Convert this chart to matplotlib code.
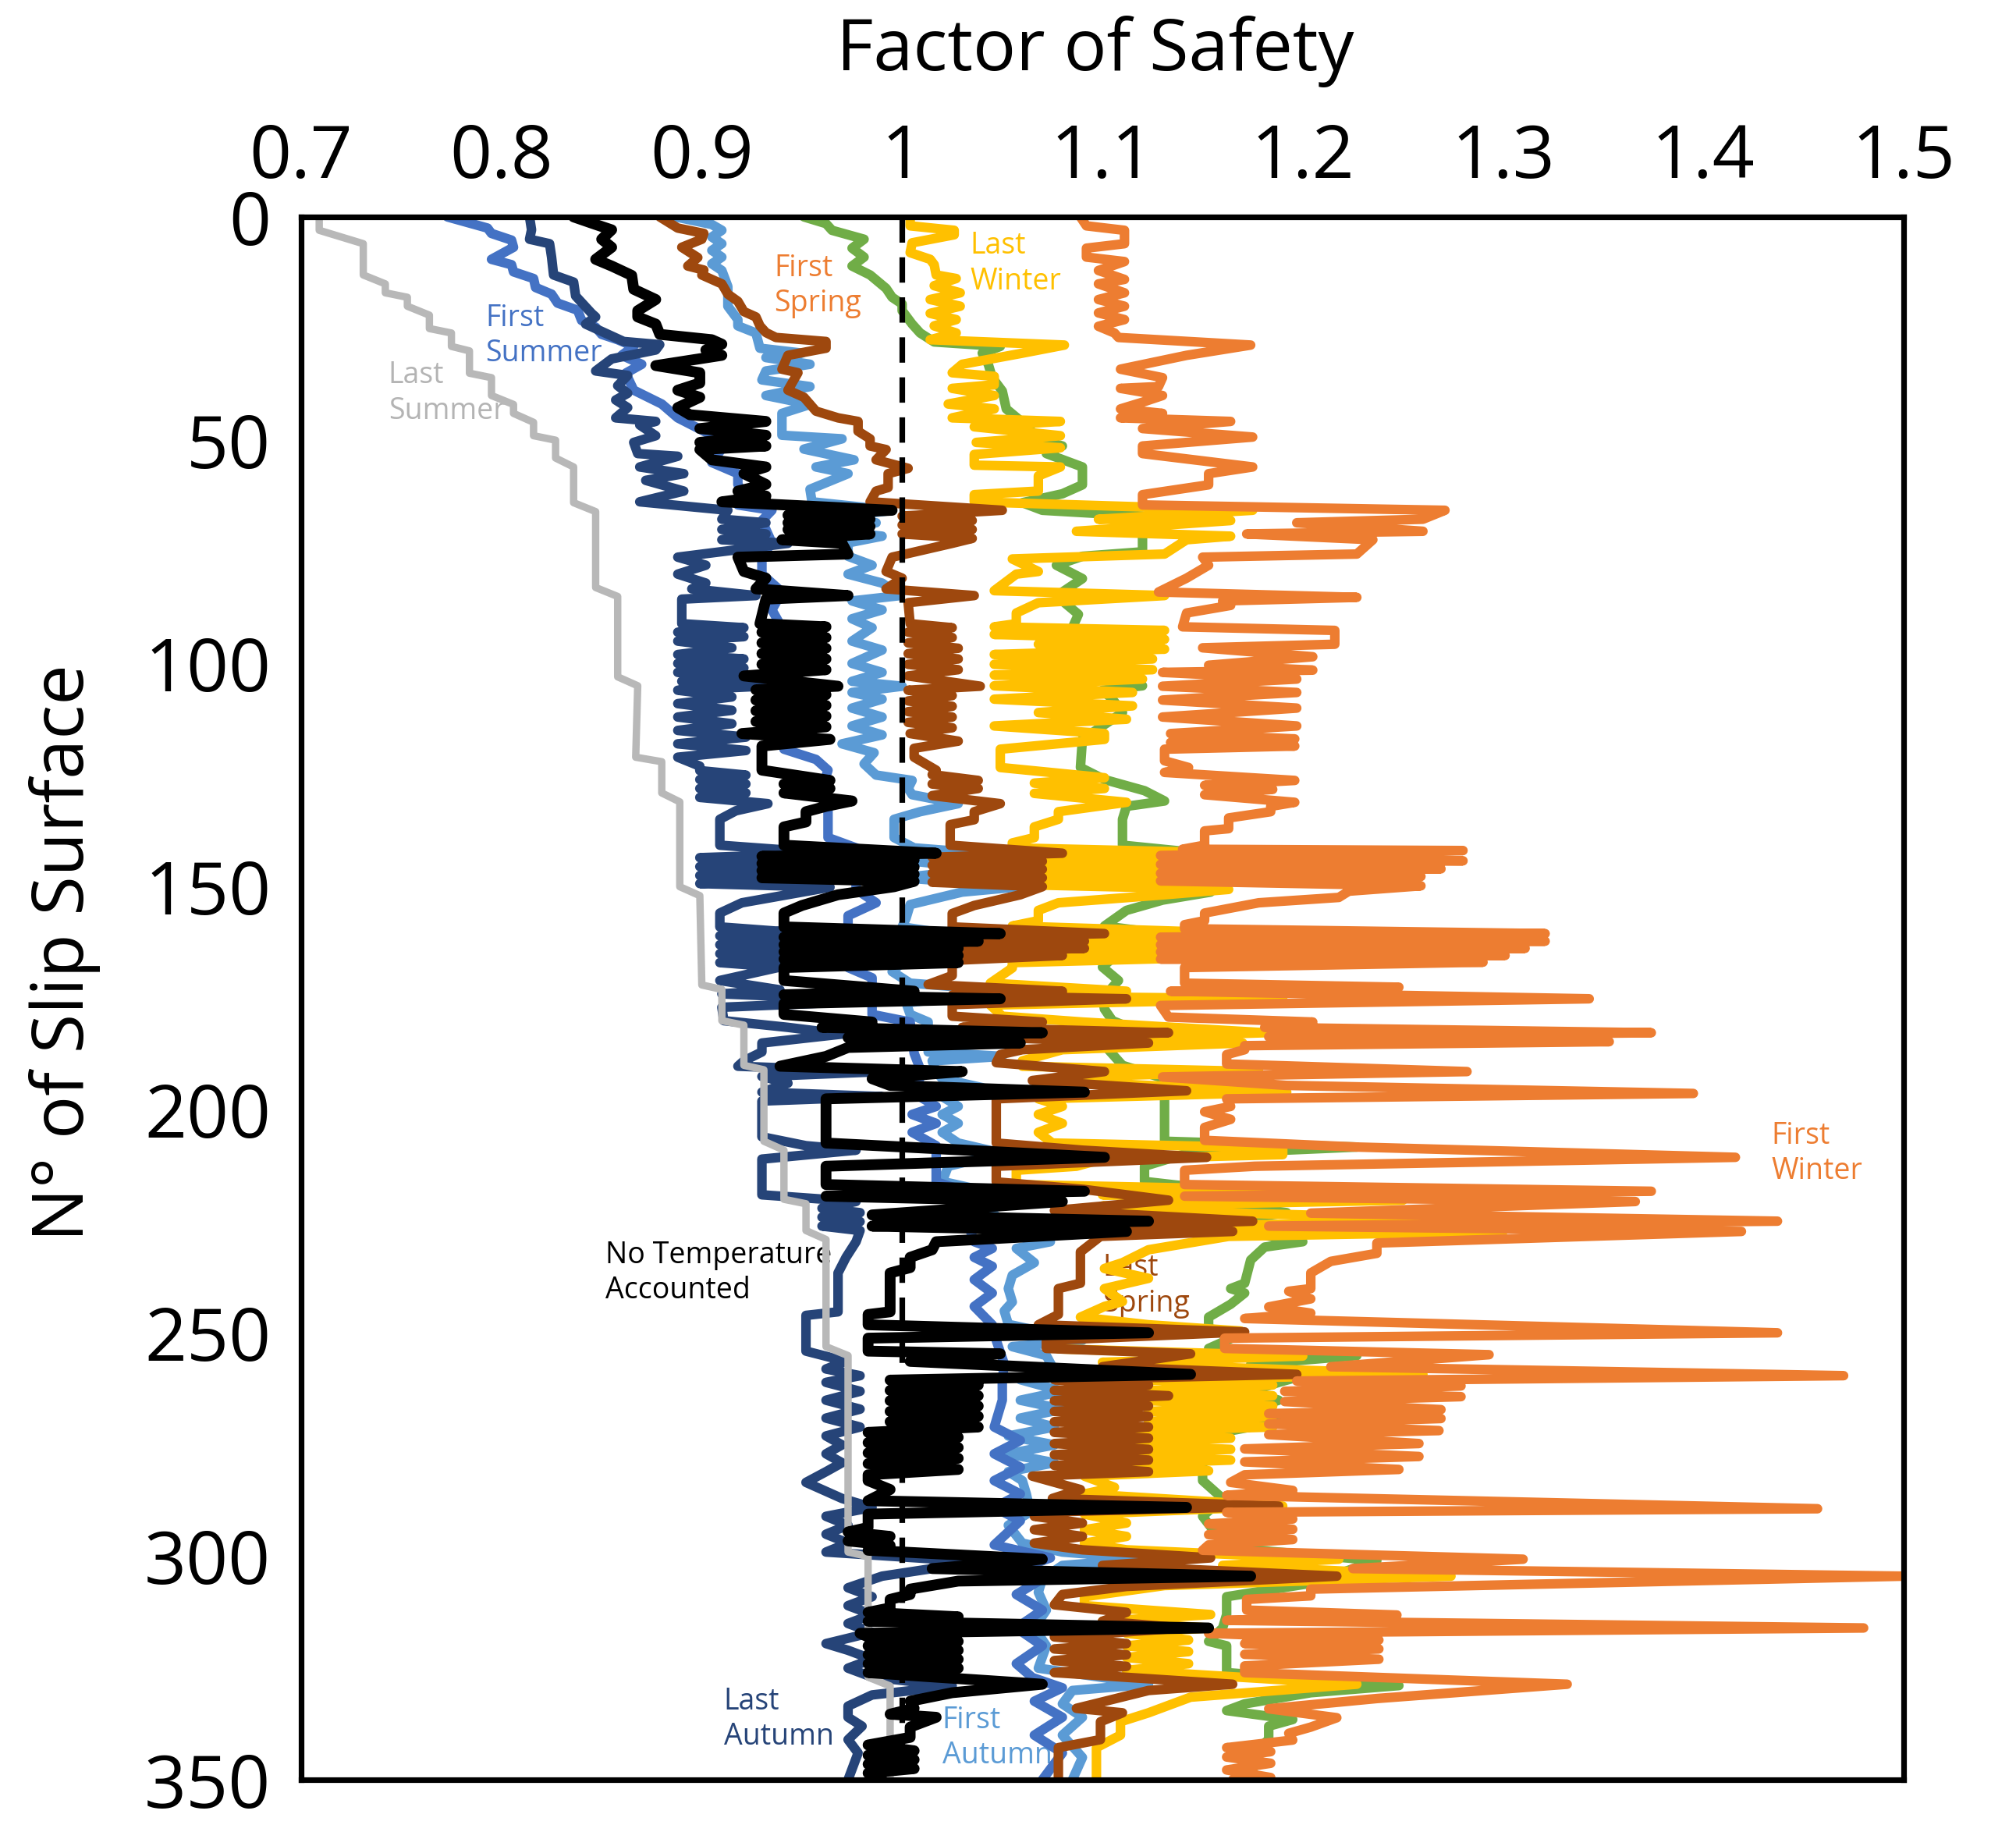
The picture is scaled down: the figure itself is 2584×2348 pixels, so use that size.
import matplotlib
matplotlib.use("Agg")
import matplotlib.pyplot as plt

plt.rcParams['font.family'] = ['Open Sans', 'DejaVu Sans']

# (slip surface number, factor of safety)
last_summer = [(0, 0.709), (3, 0.709), (6, 0.731), (13, 0.731), (15, 0.742), (17, 0.742), (18, 0.753),
               (20, 0.753), (22, 0.764), (25, 0.764), (26, 0.775), (29, 0.775), (30, 0.784), (35, 0.784),
               (36, 0.795), (40, 0.795), (42, 0.806), (44, 0.806), (46, 0.816), (49, 0.816), (50, 0.827),
               (54, 0.827), (56, 0.836), (64, 0.836), (66, 0.847), (83, 0.847), (85, 0.858), (103, 0.858),
               (105, 0.868), (121, 0.867), (122, 0.880), (129, 0.880), (131, 0.889), (150, 0.889),
               (152, 0.899), (172, 0.900), (173, 0.910), (180, 0.910), (181, 0.921), (190, 0.921),
               (191, 0.931), (207, 0.931), (209, 0.941), (220, 0.941), (221, 0.952), (227, 0.952),
               (229, 0.962), (253, 0.962), (255, 0.973), (299, 0.973), (300, 0.983), (327, 0.983),
               (329, 0.994), (350, 0.994)]

first_summer = [(0, 0.773), (2.5, 0.793), (3.7, 0.795), (5.2, 0.805), (6.8, 0.806), (9.5, 0.795), (10.7, 0.805),
                (12.3, 0.806), (13.8, 0.816), (15.8, 0.817), (17.3, 0.825), (19.3, 0.828), (20.9, 0.838),
                (23.2, 0.840), (24.7, 0.847), (26.3, 0.850), (27.5, 0.858), (29, 0.866), (31, 0.860),
                (33, 0.870), (35, 0.862), (38.8, 0.866), (41.9, 0.880), (45, 0.888), (48.9, 0.905),
                (51.3, 0.911), (55, 0.905), (57.5, 0.918), (59.9, 0.918), (62.2, 0.921), (64.5, 0.918),
                (65.7, 0.935), (68, 0.930), (70, 0.932), (73, 0.935), (76, 0.930), (80, 0.930), (84, 0.940),
                (88, 0.935), (92, 0.940), (96, 0.940), (100, 0.945), (105, 0.940), (110, 0.945), (115, 0.940),
                (119.2, 0.941), (121.5, 0.957), (123.9, 0.963), (128, 0.960), (130.8, 0.963), (139, 0.963),
                (141.3, 0.977), (150.6, 0.977), (153.6, 0.987), (156.5, 0.973), (168.1, 0.973),
                (170.4, 0.985), (178.6, 0.985), (180.3, 1.004), (187.3, 1.006), (192, 1.010), (196, 1.005),
                (199.2, 1.017), (201, 1.005), (203, 1.017), (205, 1.005), (208, 1.017), (216.1, 1.017),
                (218, 1.030), (222, 1.030), (229.5, 1.036), (231, 1.045), (233, 1.036), (235, 1.045),
                (238, 1.036), (241, 1.045), (244, 1.036), (248.1, 1.045), (251.6, 1.047), (256.9, 1.051),
                (260.4, 1.050), (265, 1.050), (271, 1.046), (274, 1.059), (277, 1.046), (280, 1.059),
                (283, 1.046), (286, 1.059), (289, 1.046), (292, 1.059), (297.4, 1.046), (300.3, 1.074),
                (303, 1.057), (305, 1.070), (308.5, 1.057), (312, 1.070), (316, 1.057), (320, 1.070),
                (324, 1.057), (327.1, 1.065), (329.4, 1.080), (332.4, 1.066), (336, 1.080), (340, 1.066),
                (344, 1.080), (350, 1.070)]

last_autumn = [(0, 0.814), (2.9, 0.815), (5, 0.814), (6, 0.824), (9, 0.825), (13, 0.826), (14.6, 0.836),
               (17.7, 0.837), (21.6, 0.845), (22.4, 0.847), (24, 0.842), (27.9, 0.861), (28.6, 0.879),
               (29.8, 0.877), (31.8, 0.855), (34.5, 0.847), (35.5, 0.863), (37.8, 0.858), (39.5, 0.863),
               (41, 0.857), (42.7, 0.863), (45, 0.857), (45.8, 0.877), (46.6, 0.869), (49, 0.877),
               (50.5, 0.866), (53, 0.868), (53.6, 0.888), (56, 0.869), (57.5, 0.891), (59, 0.872),
               (61.4, 0.891), (63.8, 0.869), (65.7, 0.913), (67.7, 0.910), (68.5, 0.932), (70, 0.910),
               (71, 0.932), (72.3, 0.910), (73.1, 0.943), (76.2, 0.888), (78, 0.902), (80, 0.888),
               (82, 0.902), (83.3, 0.895), (84.8, 0.927), (85.6, 0.890), (91.1, 0.890), (92, 0.921),
               (93, 0.888), (94, 0.921), (95, 0.888), (96.5, 0.915), (98, 0.888), (99, 0.921), (100, 0.888),
               (101, 0.921), (102, 0.888), (103, 0.921), (104, 0.890), (105.1, 0.930), (106, 0.888),
               (107.5, 0.915), (109, 0.888), (110.5, 0.915), (112, 0.888), (113.5, 0.915), (115, 0.888),
               (116.5, 0.922), (118, 0.888), (119.5, 0.922), (121, 0.888), (123, 0.899), (124, 0.899),
               (125, 0.922), (126, 0.899), (127, 0.922), (128, 0.899), (129, 0.922), (130, 0.899),
               (131.4, 0.933), (133, 0.917), (134.9, 0.909), (140.7, 0.909), (142.5, 0.964), (143.5, 0.899),
               (144.5, 0.933), (145.5, 0.899), (146.5, 0.933), (147.5, 0.899), (148.5, 0.933),
               (149.3, 0.899), (150.1, 0.964), (153.6, 0.920), (155.9, 0.909), (159, 0.909), (160, 0.939),
               (161, 0.909), (162, 0.939), (163, 0.909), (164, 0.939), (165, 0.909), (166, 0.939),
               (167, 0.909), (168, 0.939), (171, 0.909), (173.1, 0.939), (174, 0.910), (175.5, 0.990),
               (177, 0.910), (180, 0.911), (181.5, 0.943), (183, 0.970), (185, 0.930), (187, 0.930),
               (189, 0.921), (190.2, 0.918), (191.4, 0.990), (192.5, 0.930), (194, 0.943), (196, 0.930),
               (197, 0.990), (198, 0.930), (206, 0.930), (208, 0.952), (209, 0.977), (211, 0.930),
               (219, 0.930), (220.5, 0.977), (222, 0.960), (223, 0.979), (224, 0.960), (225, 0.979),
               (226, 0.960), (227, 0.979), (229.5, 0.977), (233, 0.972), (236.5, 0.968), (245.2, 0.968),
               (246, 0.952), (254, 0.952), (256.3, 0.972), (258, 0.962), (259.5, 0.979), (261, 0.962),
               (263, 0.979), (265, 0.962), (267, 0.979), (269, 0.962), (271, 0.979), (273, 0.962),
               (275, 0.970), (277, 0.962), (279, 0.970), (281, 0.962), (283.4, 0.952), (285, 0.960),
               (287, 0.970), (289, 0.985), (291, 0.962), (293, 0.973), (295, 0.962), (297, 0.973),
               (299, 0.962), (300.9, 1.028), (302.7, 1.015), (304.4, 0.990), (307, 0.973), (309, 0.985),
               (311, 0.973), (313, 0.985), (315, 0.973), (317, 0.985), (319.5, 0.962), (321, 0.973),
               (323, 0.985), (325, 0.973), (327, 0.985), (329, 1.025), (331, 0.985), (333.5, 0.973),
               (336, 0.973), (338, 0.980), (341, 0.973), (344, 0.978), (350, 0.973)]

first_autumn = [(0, 0.887), (1.7, 0.905), (3, 0.910), (4.5, 0.905), (6, 0.910), (7.5, 0.905), (9, 0.910),
                (10.5, 0.905), (12, 0.910), (15.6, 0.913), (20, 0.913), (23, 0.918), (24.4, 0.918),
                (26, 0.927), (29.4, 0.929), (30.5, 0.950), (31.5, 0.932), (33, 0.954), (34.5, 0.932),
                (36.5, 0.930), (38, 0.954), (40, 0.932), (42, 0.954), (44, 0.940), (48.9, 0.940),
                (49.7, 0.970), (52, 0.951), (54.4, 0.976), (56, 0.957), (57.5, 0.973), (61, 0.954),
                (63.8, 0.955), (65.7, 0.995), (67.7, 0.960), (68.5, 0.987), (70, 0.960), (71.5, 0.990),
                (73, 0.973), (76, 0.973), (78, 0.985), (80, 0.973), (82, 0.990), (84.8, 0.999), (86, 0.975),
                (88, 0.990), (90, 0.975), (92, 0.985), (95, 0.975), (97, 0.990), (100, 0.975), (102, 0.990),
                (104, 0.975), (105.1, 1.000), (106.5, 0.975), (108, 0.990), (110, 0.975), (112, 0.990),
                (114, 0.975), (116, 0.990), (118, 0.970), (120, 0.986), (122.5, 0.981), (125, 0.987),
                (126.2, 1.005), (128, 1.003), (129.4, 1.005), (131.4, 1.028), (133.2, 1.009),
                (134.9, 0.996), (139, 0.996), (141.3, 1.006), (142.5, 1.040), (144, 1.000), (146, 1.040),
                (148, 1.000), (150, 1.059), (151.2, 1.030), (154, 1.004), (157, 1.002), (159, 1.000),
                (161, 1.030), (163, 1.000), (165, 1.030), (167, 1.000), (169, 0.995), (171.6, 1.004),
                (173.4, 1.055), (176, 1.002), (178.6, 1.004), (180.3, 1.013), (187, 1.013), (188, 1.050),
                (189, 1.015), (191.4, 1.017), (193, 1.020), (195, 1.040), (197, 1.020), (199.2, 1.028),
                (201, 1.020), (203, 1.028), (205, 1.020), (207.4, 1.028), (209.7, 1.050), (212.6, 1.023),
                (216, 1.020), (218, 1.040), (220, 1.035), (223, 1.045), (227, 1.055), (229.5, 1.074),
                (231, 1.057), (234.2, 1.066), (237, 1.055), (240, 1.053), (243, 1.055), (245, 1.051),
                (248, 1.053), (251.6, 1.090), (253, 1.055), (255, 1.072), (257.5, 1.075), (260.4, 1.059),
                (263, 1.080), (265, 1.059), (267, 1.080), (269, 1.059), (271, 1.076), (273, 1.053),
                (275, 1.076), (277, 1.053), (279, 1.076), (281, 1.053), (283, 1.060), (286, 1.062),
                (290, 1.064), (293, 1.053), (297, 1.060), (299, 1.080), (300.5, 1.123), (302, 1.080),
                (305, 1.070), (308, 1.068), (312, 1.072), (316, 1.066), (320, 1.072), (325, 1.068),
                (328.6, 1.123), (330, 1.085), (333, 1.080), (336, 1.090), (340, 1.080), (345, 1.090),
                (350, 1.085)]

no_temperature = [(0, 0.836), (1.7, 0.847), (2.9, 0.855), (5, 0.850), (6.8, 0.855), (9.5, 0.847), (11, 0.855),
                  (13.1, 0.865), (16.2, 0.866), (18.5, 0.877), (21, 0.868), (22.4, 0.868), (24, 0.877),
                  (26.3, 0.879), (27.5, 0.905), (28.5, 0.910), (29.8, 0.902), (31, 0.910), (33.3, 0.877),
                  (34.9, 0.899), (37.2, 0.899), (38.8, 0.888), (40.4, 0.899), (42.7, 0.888), (44.3, 0.894),
                  (45.8, 0.932), (47.4, 0.899), (48.9, 0.932), (50.5, 0.899), (51.3, 0.932), (52.1, 0.899),
                  (54.4, 0.905), (56, 0.932), (57.5, 0.921), (59.9, 0.932), (61.4, 0.918), (62.5, 0.932),
                  (63.8, 0.910), (65.7, 0.995), (66.8, 0.943), (67.7, 0.984), (68.5, 0.943), (69.3, 0.984),
                  (70, 0.943), (71, 0.984), (72.3, 0.940), (73.1, 0.970), (75.5, 0.973), (76.2, 0.918),
                  (79.4, 0.921), (80.9, 0.932), (83.3, 0.927), (84.8, 0.973), (85.6, 0.932), (91.1, 0.929),
                  (91.8, 0.962), (93, 0.930), (94.2, 0.962), (95.4, 0.930), (96.6, 0.962), (97.8, 0.930),
                  (99, 0.962), (100.2, 0.930), (101.4, 0.962), (102.8, 0.921), (105.1, 0.968), (105.9, 0.927),
                  (107, 0.962), (108.2, 0.927), (109.4, 0.962), (110.6, 0.927), (111.8, 0.962), (113, 0.927),
                  (114.2, 0.962), (115.7, 0.920), (117, 0.964), (118.5, 0.930), (123.9, 0.930),
                  (126.2, 0.964), (127, 0.941), (128, 0.964), (129, 0.941), (130.8, 0.975), (132, 0.962),
                  (133.2, 0.952), (135.5, 0.952), (136.6, 0.941), (140.7, 0.941), (142.5, 1.017),
                  (143.2, 0.930), (144, 1.006), (144.8, 0.930), (145.6, 1.006), (146.4, 0.930),
                  (147.2, 1.006), (148, 0.930), (148.8, 1.006), (150, 0.996), (151.8, 0.968), (154.2, 0.950),
                  (155.9, 0.941), (159, 0.941), (160.5, 1.049), (161.3, 0.941), (162.2, 1.038), (163, 0.941),
                  (163.8, 1.028), (164.6, 0.941), (165.4, 1.028), (166.2, 0.941), (167, 1.028),
                  (168.1, 0.941), (171, 0.941), (173.4, 1.006), (174.2, 0.941), (175.1, 1.049),
                  (176.2, 0.941), (178.6, 0.941), (180.3, 0.985), (181.5, 0.960), (182.7, 1.070),
                  (183.8, 0.973), (185, 1.059), (186, 0.973), (188, 0.962), (190.2, 0.939), (191.4, 1.030),
                  (193, 0.985), (194.5, 0.994), (196, 1.091), (197.5, 0.962), (207.4, 0.962), (210.6, 1.101),
                  (212.6, 0.962), (216.7, 0.962), (218.2, 1.091), (219.3, 0.962), (220.5, 1.080),
                  (223.5, 0.985), (224.9, 1.123), (226, 0.985), (227.2, 1.112), (229.5, 1.017),
                  (231.3, 1.015), (233, 1.004), (235.3, 1.004), (236.5, 0.994), (245.2, 0.994),
                  (245.8, 0.983), (248.1, 0.983), (249.9, 1.123), (251.1, 0.983), (254, 0.983),
                  (254.6, 1.049), (256.3, 1.004), (259.2, 1.144), (260.5, 0.994), (261.6, 1.038),
                  (262.8, 0.994), (264, 1.038), (265.1, 0.994), (266.3, 1.038), (267.5, 0.994),
                  (268.6, 1.038), (269.8, 0.994), (271, 1.038), (272.2, 0.983), (273.3, 1.028),
                  (274.5, 0.983), (275.6, 1.028), (276.8, 0.983), (278, 1.028), (279.2, 0.983),
                  (280.5, 1.028), (281.7, 0.983), (283, 0.983), (285, 0.994), (287.5, 0.983), (289, 1.142),
                  (290.5, 0.983), (293.5, 0.983), (294.5, 0.973), (295.5, 0.994), (296.5, 0.973),
                  (297.5, 0.994), (298.6, 0.983), (300.6, 1.070), (302.7, 1.015), (304.4, 1.174),
                  (305.5, 1.028), (307.3, 1.004), (308.5, 1.004), (309.6, 0.994), (311.5, 0.994),
                  (312.5, 0.983), (313.5, 1.028), (314.5, 0.983), (316, 1.153), (317.2, 0.979), (318, 0.983),
                  (319, 1.028), (320, 0.983), (321, 1.028), (322, 0.983), (323, 1.028), (324, 0.983),
                  (325, 1.028), (326, 0.983), (328.6, 1.070), (330.5, 1.025), (332.4, 1.004), (334, 1.006),
                  (335.3, 0.994), (336, 1.017), (338.2, 1.004), (340.5, 1.004), (342.2, 0.983),
                  (343.5, 1.006), (344.5, 0.983), (345.5, 1.006), (346.5, 0.983), (347.5, 1.006),
                  (348.5, 0.983), (350, 0.990)]

last_spring = [(0, 0.879), (2.5, 0.888), (3.7, 0.901), (5, 0.900), (6.8, 0.890), (9.1, 0.898), (11, 0.893),
               (11.9, 0.901), (13, 0.900), (15, 0.910), (17.3, 0.913), (18.9, 0.918), (21.2, 0.921),
               (22.4, 0.927), (24.4, 0.929), (25.9, 0.932), (27, 0.937), (27.9, 0.962), (29.4, 0.962),
               (31, 0.943), (34.1, 0.940), (34.9, 0.948), (38.8, 0.943), (40.4, 0.951), (43.5, 0.957),
               (45, 0.968), (45.8, 0.978), (48, 0.978), (49.7, 0.984), (51.3, 0.984), (52.1, 0.992),
               (54.4, 0.987), (56.3, 1.003), (57.5, 0.993), (60.6, 0.993), (61.4, 0.987), (63.8, 0.984),
               (65.7, 1.050), (67, 1.000), (68, 1.035), (69, 1.000), (70, 1.035), (71, 1.000), (72, 1.035),
               (73.1, 1.025), (76.2, 0.995), (79.4, 0.992), (80.9, 1.000), (83.3, 0.992), (84.8, 1.036),
               (86.4, 1.003), (91.1, 1.004), (92, 1.025), (93, 1.003), (94.2, 1.025), (95.4, 1.003),
               (96.6, 1.028), (97.8, 1.003), (99, 1.028), (100.2, 1.003), (101.4, 1.028), (102.8, 1.003),
               (105.1, 1.039), (106, 1.003), (107.2, 1.025), (108.4, 1.003), (109.6, 1.025),
               (110.8, 1.003), (112, 1.025), (113.2, 1.003), (114.4, 1.025), (115.7, 1.004),
               (117.4, 1.028), (119, 1.006), (121, 1.006), (123.9, 1.017), (124.9, 1.015), (126.2, 1.038),
               (127, 1.015), (128, 1.038), (129.6, 1.015), (131.4, 1.049), (133.2, 1.036), (135, 1.036),
               (136.1, 1.024), (140.7, 1.024), (142.5, 1.080), (143.4, 1.015), (144.3, 1.070),
               (145.2, 1.015), (146.1, 1.070), (147, 1.015), (148, 1.070), (149, 1.015), (150, 1.070),
               (151.8, 1.059), (154.2, 1.036), (156, 1.025), (159, 1.025), (160.5, 1.101), (161.3, 1.023),
               (162.2, 1.091), (163, 1.023), (163.8, 1.091), (164.6, 1.023), (165.4, 1.080),
               (166.5, 1.025), (169.9, 1.025), (171.9, 1.013), (173.4, 1.080), (174.3, 1.025),
               (175.1, 1.112), (176.4, 1.025), (179, 1.025), (180.3, 1.070), (181.5, 1.030),
               (182.7, 1.133), (183.8, 1.050), (185, 1.123), (186.5, 1.060), (187.6, 1.049),
               (189.4, 1.047), (191.4, 1.101), (193.4, 1.065), (195.7, 1.142), (197.5, 1.047),
               (207.4, 1.047), (209, 1.090), (210.6, 1.152), (212.6, 1.047), (216.1, 1.047),
               (217.8, 1.091), (220.2, 1.133), (222.5, 1.076), (224.9, 1.175), (226, 1.100),
               (227.2, 1.165), (228.3, 1.099), (231.8, 1.089), (238.8, 1.089), (240, 1.078),
               (245.8, 1.078), (248.1, 1.068), (249.7, 1.171), (251.6, 1.072), (253.4, 1.072),
               (254.6, 1.144), (257.5, 1.100), (259.2, 1.197), (260.4, 1.076), (261.6, 1.123),
               (262.8, 1.076), (264, 1.133), (265.1, 1.076), (266.3, 1.123), (267.5, 1.076),
               (268.6, 1.123), (269.8, 1.076), (271, 1.123), (272.2, 1.076), (273.5, 1.123),
               (274.7, 1.076), (276, 1.123), (277.2, 1.076), (278.4, 1.123), (279.6, 1.076), (281, 1.123),
               (282, 1.065), (285, 1.089), (287, 1.075), (288.7, 1.188), (290, 1.075), (291, 1.066),
               (292.5, 1.090), (294, 1.066), (295.5, 1.090), (297, 1.066), (298.5, 1.090), (300.3, 1.154),
               (302, 1.100), (304.4, 1.217), (306.7, 1.112), (308.5, 1.080), (310.8, 1.076),
               (312.5, 1.112), (314.5, 1.100), (316, 1.140), (318, 1.076), (319.5, 1.112), (320.7, 1.076),
               (322, 1.112), (323.3, 1.076), (324.6, 1.112), (326, 1.076), (328.6, 1.165), (330, 1.123),
               (334, 1.087), (335, 1.110), (337, 1.099), (341, 1.099), (342.8, 1.078), (350, 1.078)]

first_spring = [(0, 0.951), (1.5, 0.962), (3, 0.965), (5, 0.981), (7, 0.975), (9, 0.981), (11, 0.975),
                (13, 0.984), (16, 0.992), (18, 0.995), (19.5, 1.000), (21, 1.000), (24, 1.005), (26, 1.009),
                (28, 1.016), (29, 1.049), (30.5, 1.040), (33, 1.043), (36, 1.045), (39, 1.050), (43, 1.052),
                (46, 1.060), (50, 1.069), (51.3, 1.080), (53, 1.072), (56, 1.090), (60, 1.090), (62, 1.080),
                (64, 1.060), (65.7, 1.070), (67, 1.120), (72, 1.120), (75, 1.120), (76, 1.090), (78, 1.077),
                (81, 1.090), (84, 1.080), (86, 1.080), (89, 1.088), (92, 1.085), (96, 1.090), (100, 1.090),
                (103, 1.095), (105, 1.120), (106, 1.100), (108, 1.105), (111, 1.110), (114, 1.100),
                (117, 1.090), (123.3, 1.089), (126, 1.101), (128.5, 1.121), (130.8, 1.131), (132, 1.112),
                (134.9, 1.110), (140.7, 1.110), (142.5, 1.150), (145, 1.130), (148, 1.160), (151.2, 1.154),
                (153, 1.130), (155.3, 1.112), (158.8, 1.101), (160.5, 1.130), (164, 1.110), (168, 1.100),
                (171, 1.108), (175, 1.100), (177.4, 1.101), (180, 1.105), (182.7, 1.120), (185, 1.100),
                (190, 1.110), (193, 1.131), (207, 1.131), (208.3, 1.227), (210, 1.140), (212.6, 1.121),
                (216, 1.121), (218, 1.160), (221, 1.160), (223, 1.192), (225, 1.160), (228, 1.180),
                (229.5, 1.200), (230.7, 1.181), (233.6, 1.174), (238.8, 1.171), (240, 1.164), (241, 1.171),
                (243.5, 1.164), (246.4, 1.153), (249, 1.153), (250, 1.170), (253.4, 1.153), (255, 1.227),
                (257, 1.174), (259.5, 1.200), (261, 1.188), (263, 1.174), (265, 1.188), (267, 1.174),
                (269, 1.188), (271, 1.174), (273, 1.150), (283, 1.150), (287, 1.160), (291, 1.150),
                (298, 1.162), (300.9, 1.237), (306, 1.204), (309, 1.162), (313, 1.162), (316, 1.160),
                (319, 1.153), (320, 1.162), (326, 1.162), (328.9, 1.248), (330.5, 1.204), (333, 1.171),
                (334.5, 1.162), (336.5, 1.195), (338, 1.183), (341, 1.183), (344, 1.175), (350, 1.175)]

last_winter = [(0, 1.004), (2, 1.004), (3, 1.026), (4, 1.026), (5.8, 1.005), (8, 1.004), (9.5, 1.014),
               (10.7, 1.016), (13, 1.017), (13.8, 1.027), (15.4, 1.016), (17, 1.029), (18.5, 1.014),
               (20, 1.029), (21.6, 1.014), (23, 1.027), (24.4, 1.016), (26, 1.027), (27.5, 1.014),
               (28.7, 1.081), (30.6, 1.059), (33, 1.030), (34.9, 1.025), (35.7, 1.046), (37.6, 1.046),
               (38.4, 1.025), (40, 1.046), (41.9, 1.023), (43, 1.046), (45, 1.025), (45.8, 1.079),
               (47, 1.036), (49, 1.079), (50.5, 1.037), (51.7, 1.079), (53.2, 1.036), (55.6, 1.036),
               (56, 1.079), (58, 1.068), (61.4, 1.068), (62.2, 1.036), (63.8, 1.036), (65.7, 1.175),
               (67.7, 1.098), (68, 1.164), (70.4, 1.087), (71.5, 1.164), (72.3, 1.142), (75.5, 1.131),
               (76.6, 1.055), (79.4, 1.068), (80, 1.057), (83.7, 1.046), (84.8, 1.131), (86.4, 1.068),
               (88.7, 1.057), (91.1, 1.057), (91.8, 1.046), (92.6, 1.131), (93.5, 1.046), (94.6, 1.131),
               (95.7, 1.068), (96.8, 1.131), (98, 1.046), (99, 1.125), (100.2, 1.046), (101.4, 1.125),
               (102.6, 1.046), (103.5, 1.120), (105, 1.046), (106.5, 1.115), (108, 1.046), (109.5, 1.115),
               (111, 1.068), (112.5, 1.112), (114, 1.046), (115.7, 1.101), (117, 1.101), (119.2, 1.049),
               (123.3, 1.049), (125.6, 1.101), (126.8, 1.066), (128, 1.101), (129.1, 1.066),
               (131.1, 1.112), (133.2, 1.078), (134.9, 1.078), (136.6, 1.066), (139, 1.066),
               (140.2, 1.055), (141.3, 1.055), (142.5, 1.170), (143.5, 1.055), (144.5, 1.170),
               (145.5, 1.055), (146.5, 1.170), (147.5, 1.055), (148.5, 1.165), (149.5, 1.055),
               (150.6, 1.163), (151.8, 1.131), (153.6, 1.078), (155.3, 1.068), (157.6, 1.068),
               (158.8, 1.055), (160, 1.140), (161, 1.055), (162, 1.140), (163, 1.055), (164, 1.140),
               (165, 1.055), (166, 1.140), (167, 1.055), (168.2, 1.055), (171.6, 1.044), (173.4, 1.112),
               (174.5, 1.044), (175.1, 1.190), (176.5, 1.044), (179, 1.050), (180.3, 1.090),
               (182.7, 1.181), (184, 1.090), (185, 1.170), (186.5, 1.080), (189, 1.060), (190.2, 1.060),
               (191.4, 1.178), (192.6, 1.080), (194, 1.100), (196, 1.192), (197.5, 1.068), (199.2, 1.080),
               (201, 1.068), (203, 1.080), (205, 1.068), (207.4, 1.075), (208.5, 1.190), (210, 1.190),
               (211, 1.100), (212.6, 1.087), (213.5, 1.057), (216.7, 1.057), (218, 1.200), (219, 1.100),
               (220.2, 1.250), (221.5, 1.100), (222.5, 1.120), (224.9, 1.311), (226, 1.120),
               (227.2, 1.300), (228.3, 1.163), (231.3, 1.123), (234.2, 1.110), (235.5, 1.101),
               (237.7, 1.123), (240, 1.101), (242.9, 1.110), (244, 1.101), (246.4, 1.089), (248.1, 1.123),
               (249.5, 1.169), (251, 1.078), (253.5, 1.078), (255.1, 1.200), (256.5, 1.100),
               (257.5, 1.150), (259.2, 1.260), (260.4, 1.123), (261.6, 1.185), (262.8, 1.123),
               (264, 1.185), (265.1, 1.123), (266.3, 1.185), (267.5, 1.123), (268.6, 1.185),
               (269.8, 1.123), (271, 1.185), (272.2, 1.091), (273.5, 1.164), (274.7, 1.091), (276, 1.164),
               (277.2, 1.091), (278.4, 1.164), (279.6, 1.091), (280.8, 1.153), (282, 1.091),
               (284.5, 1.106), (286, 1.091), (288.7, 1.190), (290.5, 1.091), (292.5, 1.112), (294, 1.091),
               (295.5, 1.112), (297, 1.091), (298.5, 1.112), (300.6, 1.218), (302, 1.160), (304.4, 1.274),
               (306.5, 1.131), (309, 1.091), (311, 1.091), (313, 1.154), (314.5, 1.100), (316, 1.153),
               (317.2, 1.112), (318.7, 1.143), (320, 1.112), (321.3, 1.143), (322.6, 1.112), (324, 1.143),
               (325.5, 1.112), (328.6, 1.227), (331.5, 1.144), (335, 1.123), (337, 1.109), (340, 1.109),
               (342.8, 1.097), (350, 1.097)]

first_winter = [(0, 1.089), (2, 1.092), (3, 1.111), (6, 1.111), (7, 1.092), (9, 1.092), (10, 1.111),
                (12, 1.098), (14, 1.111), (15, 1.098), (17, 1.111), (18.5, 1.098), (20, 1.111),
                (21.5, 1.098), (23, 1.111), (24.5, 1.098), (26, 1.106), (27, 1.108), (28.7, 1.174),
                (31, 1.142), (34.1, 1.109), (36, 1.130), (38, 1.128), (38.4, 1.109), (40, 1.130),
                (41.5, 1.120), (43, 1.109), (44, 1.130), (45, 1.109), (45.8, 1.164), (47.4, 1.120),
                (49.3, 1.175), (51.3, 1.120), (53, 1.120), (56, 1.175), (57.5, 1.153), (60, 1.153),
                (62.2, 1.120), (64.5, 1.120), (65.7, 1.271), (67.7, 1.260), (68.5, 1.197), (70.4, 1.260),
                (71, 1.172), (72.3, 1.235), (75.5, 1.227), (76.2, 1.150), (78, 1.153), (80.9, 1.142),
                (84, 1.128), (85.2, 1.227), (86, 1.160), (87, 1.164), (88.7, 1.142), (91.8, 1.140),
                (92.6, 1.216), (95.7, 1.216), (96.5, 1.150), (98.5, 1.205), (100.4, 1.153), (101.5, 1.205),
                (102, 1.130), (103.5, 1.197), (105.1, 1.130), (106.5, 1.197), (108.2, 1.130),
                (110, 1.197), (112, 1.130), (114, 1.197), (115.7, 1.134), (116.9, 1.196), (117.7, 1.134),
                (118.5, 1.196), (119.2, 1.131), (121.8, 1.131), (123.3, 1.143), (124.4, 1.131),
                (126.2, 1.196), (127.3, 1.151), (128.2, 1.185), (129.4, 1.151), (131.1, 1.196),
                (132, 1.184), (133.2, 1.184), (134.6, 1.163), (137, 1.163), (137.5, 1.151), (140.7, 1.151),
                (141.6, 1.140), (141.9, 1.280), (143, 1.129), (144.2, 1.280), (145, 1.129), (146, 1.269),
                (147, 1.129), (147.7, 1.259), (148.7, 1.129), (149.8, 1.259), (151, 1.223), (152.4, 1.218),
                (153.6, 1.178), (155.9, 1.151), (157.6, 1.151), (158.5, 1.141), (159.4, 1.141),
                (160.5, 1.321), (161.3, 1.129), (162.2, 1.321), (163, 1.129), (163.8, 1.311),
                (164.6, 1.129), (165.4, 1.301), (166.2, 1.129), (166.9, 1.290), (168.1, 1.141),
                (171.6, 1.141), (172.5, 1.248), (173.4, 1.134), (175.1, 1.343), (176.6, 1.129),
                (179.2, 1.133), (180.3, 1.205), (181.5, 1.181), (182.7, 1.374), (183.6, 1.183),
                (184.7, 1.353), (185.6, 1.171), (186.5, 1.171), (187.6, 1.162), (189.7, 1.162),
                (191.4, 1.282), (192.6, 1.130), (194.5, 1.192), (196.3, 1.395), (197.5, 1.162),
                (199.2, 1.164), (200.4, 1.151), (202.1, 1.164), (203.9, 1.151), (206.8, 1.151),
                (208.3, 1.227), (210.6, 1.416), (212.6, 1.176), (213.5, 1.141), (216.7, 1.141),
                (218.2, 1.374), (219.3, 1.141), (220.5, 1.366), (223.1, 1.204), (224.9, 1.437),
                (226, 1.183), (227.2, 1.419), (229.8, 1.237), (232.1, 1.237), (233.9, 1.214),
                (236.5, 1.204), (240, 1.204), (240.6, 1.193), (242.3, 1.204), (244.1, 1.183),
                (245.5, 1.204), (246.7, 1.171), (249.9, 1.437), (251.1, 1.161), (253.4, 1.161),
                (254.8, 1.293), (257.5, 1.214), (259.5, 1.470), (260.7, 1.197), (261.8, 1.279),
                (263, 1.191), (264.2, 1.279), (265.3, 1.191), (267.1, 1.269), (268, 1.183), (269.1, 1.269),
                (270.3, 1.183), (271.8, 1.268), (272.7, 1.183), (274.7, 1.258), (275.9, 1.171),
                (277.6, 1.258), (278.8, 1.171), (280.5, 1.248), (281.7, 1.171), (283.4, 1.164),
                (285.2, 1.195), (286.3, 1.162), (289.3, 1.457), (290.1, 1.162), (291.6, 1.195),
                (292.7, 1.153), (293.9, 1.195), (295.1, 1.153), (296.2, 1.195), (297.4, 1.153),
                (298.6, 1.150), (300.6, 1.310), (302.7, 1.225), (304.4, 1.500), (307.3, 1.204),
                (308.8, 1.204), (309.6, 1.172), (312, 1.172), (313.1, 1.247), (314.3, 1.162), (316, 1.480),
                (317.2, 1.153), (318.7, 1.238), (319.5, 1.171), (320.7, 1.238), (321.9, 1.171),
                (323, 1.238), (324.5, 1.171), (326, 1.171), (328.6, 1.332), (331.8, 1.237), (334.1, 1.183),
                (336.1, 1.217), (338.2, 1.204), (339.6, 1.193), (341.1, 1.195), (342.8, 1.162),
                (343.7, 1.184), (344.9, 1.162), (346.3, 1.184), (347.8, 1.162), (349.5, 1.184),
                (350, 1.165)]

x_ticks = [0.7, 0.8, 0.9, 1.0, 1.1, 1.2, 1.3, 1.4, 1.5]
x_tick_labels = ['0.7', '0.8', '0.9', '1', '1.1', '1.2', '1.3', '1.4', '1.5']
y_ticks = [0, 50, 100, 150, 200, 250, 300, 350]

# (data, colour, linewidth, zorder)
series = [
    (first_spring, '#70AD47', 4.4, 2),
    (first_autumn, '#5B9BD5', 4.4, 3),
    (first_summer, '#4472C4', 4.4, 4),
    (last_autumn, '#264478', 4.4, 5),
    (last_summer, '#B8B8B8', 3.4, 6),
    (last_winter, '#FFC000', 4.4, 7),
    (last_spring, '#9E480E', 4.4, 8),
    (first_winter, '#ED7D31', 4.4, 9),
    (no_temperature, '#000000', 5.0, 11),
]

# label text, left x (factor of safety), centre y (slip surface), colour
labels = [
    ('First\nSummer', 0.792, 26.6, '#4472C4'),
    ('Last\nSummer', 0.7435, 39.5, '#B4B4B4'),
    ('First\nSpring', 0.936, 15.4, '#ED7D31'),
    ('Last\nWinter', 1.034, 10.5, '#FFC000'),
    ('First\nWinter', 1.434, 209.7, '#ED7D31'),
    ('No Temperature\nAccounted', 0.852, 236.5, '#000000'),
    ('Last\nSpring', 1.100, 239.4, '#9E480E'),
    ('Last\nAutumn', 0.911, 336.4, '#264478'),
    ('First\nAutumn', 1.020, 340.7, '#5B9BD5'),
]

fig = plt.figure(figsize=(12.92, 11.74), dpi=200)
ax = fig.add_axes([0.1494, 0.0285, 0.7949, 0.8531])

for data, col, lw, z in series:
    s, fs = zip(*data)
    ax.plot(fs, s, color=col, lw=lw, zorder=z, solid_joinstyle='round', solid_capstyle='round')

ax.plot([1.0, 1.0], [0, 350], color='black', lw=2.6, dashes=(4.5, 2.6), zorder=10)

for txt, x, y, col in labels:
    ax.text(x, y, txt, color=col, fontsize=13.5, ha='left', va='center', linespacing=1.25, zorder=1)

ax.set_xlim(0.7, 1.5)
ax.set_ylim(350, 0)
ax.xaxis.tick_top()
ax.set_xticks(x_ticks)
ax.set_xticklabels(x_tick_labels)
ax.set_yticks(y_ticks)
ax.tick_params(axis='both', length=0, labelsize=34)
ax.tick_params(axis='x', pad=10)
ax.tick_params(axis='y', pad=14)
for sp in ax.spines.values():
    sp.set_linewidth(2.6)
    sp.set_color('black')
    sp.set_zorder(20)

fig.text(0.5433, 0.972, 'Factor of Safety', fontsize=33, ha='center', va='center')
fig.text(0.032, 0.480, 'N° of Slip Surface', fontsize=33, ha='center', va='center', rotation=90)

fig.savefig('out.png', dpi=200)
